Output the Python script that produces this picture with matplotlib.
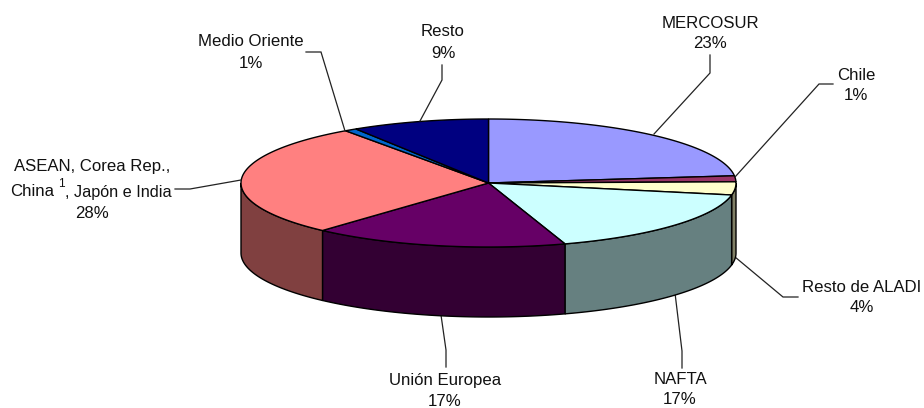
import numpy as np
import matplotlib
matplotlib.use("Agg")
import matplotlib.pyplot as plt
from matplotlib.patches import Polygon

plt.rcParams['font.family'] = ['Liberation Sans', 'DejaVu Sans']

# slices clockwise from 12 o'clock
regions = ["MERCOSUR", "Chile", "Resto de ALADI", "NAFTA", "Unión Europea",
           "ASEAN", "Medio Oriente", "Resto"]
shares = [23.2, 1.5, 3.3, 17.0, 16.7, 28.5, 0.8, 9.0]
printed = ["23%", "1%", "4%", "17%", "17%", "28%", "1%", "9%"]
top_colors = ["#9999FF", "#993366", "#FFFFCC", "#CCFFFF", "#660066", "#FF8080", "#0066CC", "#000080"]
wall_colors = ["#4D4D80", "#4D1A33", "#808066", "#668080", "#330033", "#804040", "#003366", "#000040"]

cx, cy = 488.5, 183
a, b = 247.5, 64
depth = 70
fs = 12.1


def rim(t1, t2):
    t = np.radians(np.linspace(t1, t2, max(int(abs(t2 - t1) * 2), 2)))
    return np.column_stack([cx + a * np.sin(t), cy - b * np.cos(t)])


fig = plt.figure(figsize=(9.24, 4.08), dpi=100)
ax = fig.add_axes([0, 0, 1, 1])
ax.set_xlim(0, 924)
ax.set_ylim(408, 0)
ax.axis('off')

edges = np.concatenate([[0], np.cumsum(shares)]) * 3.6

# side of the disc, only the front half shows
for i in range(len(shares)):
    t1, t2 = max(edges[i], 90), min(edges[i + 1], 270)
    if t2 <= t1:
        continue
    r = rim(t1, t2)
    low = r[::-1] + [0, depth]
    ax.add_patch(Polygon(np.vstack([r, low]), closed=True, fc=wall_colors[i], ec='black', lw=1, zorder=2))

# top face
for i in range(len(shares)):
    r = rim(edges[i], edges[i + 1])
    ax.add_patch(Polygon(np.vstack([[cx, cy], r]), closed=True, fc=top_colors[i], ec='black', lw=1, zorder=3))

# leader lines
leaders = [
    [(710, 55), (710, 73), (654, 134)],
    [(833, 84), (819, 84), (735, 177)],
    [(798, 297), (783, 297), (735, 257)],
    [(682, 368), (682, 351), (675, 293)],
    [(446, 367), (446, 350), (441, 315)],
    [(175, 189), (190, 189), (241, 180)],
    [(306, 52), (321, 52), (345, 131)],
    [(442, 65), (442, 80), (420, 121)],
]
for pts in leaders:
    xs, ys = zip(*pts)
    ax.plot(xs, ys, color='#222222', lw=0.9, zorder=1.5 if pts[0][1] > 290 else 4, solid_joinstyle='miter')

# labels: centre x, y of the name line, y of the percent line
spots = [(710, 24, 44), (856, 75, 96), (862, 287, 308), (680, 379, 399),
         (445, 380, 401), (92, 192, 213), (251, 41, 63), (443, 32, 53)]
for name, pct, (x, y1, y2) in zip(regions, printed, spots):
    if name == "ASEAN":
        ax.text(x, 166, "ASEAN, Corea Rep.,", ha='center', va='center', fontsize=fs, color='#111111')
        ax.text(54, y1, "China", ha='right', va='center', fontsize=fs, color='#111111')
        ax.text(61, y1 - 8, "1", ha='center', va='center', fontsize=8.5, color='#111111')
        ax.text(172, y1, ", Japón e India", ha='right', va='center', fontsize=11.7, color='#111111')
    else:
        ax.text(x, y1, name, ha='center', va='center', fontsize=fs, color='#111111')
    ax.text(x, y2, pct, ha='center', va='center', fontsize=fs, color='#111111')

fig.savefig("out.png", dpi=100, facecolor='white')
